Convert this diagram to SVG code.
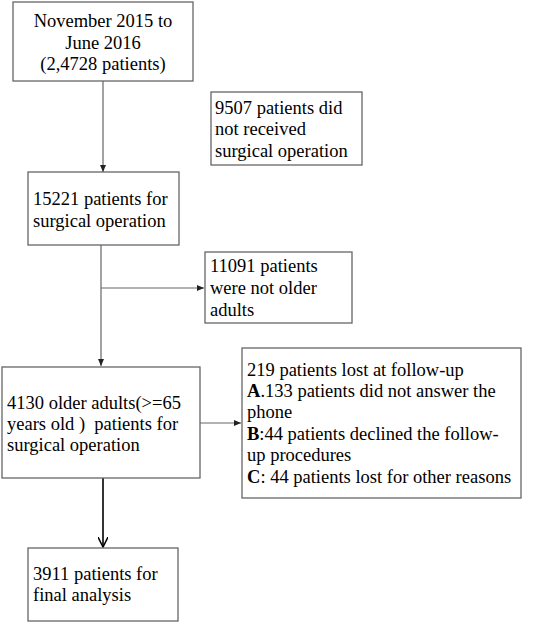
<svg xmlns="http://www.w3.org/2000/svg" width="536" height="623" viewBox="0 0 536 623">
<style>
.box{fill:#fff;stroke:#666;stroke-width:1.3}
.t{font-family:"Liberation Serif","Times New Roman",serif;font-size:18.5px;fill:#000}
.c{stroke:#666;stroke-width:1.2;fill:none}
.k{stroke:#000;stroke-width:1.6;fill:none}
</style>
<defs>
<marker id="ah" markerWidth="8" markerHeight="8" refX="7" refY="4" orient="auto" markerUnits="userSpaceOnUse">
<path d="M0,1 L7,4 L0,7 Z" fill="#222"/>
</marker>
<marker id="av" markerWidth="12" markerHeight="10" refX="10" refY="5" orient="auto" markerUnits="userSpaceOnUse">
<path d="M0,0 L10,5 L0,10" fill="none" stroke="#000" stroke-width="1.5"/>
</marker>
</defs>
<rect width="536" height="623" fill="#fff"/>
<g id="connectors">
<line class="c" x1="103" y1="81" x2="103" y2="172" marker-end="url(#ah)"/>
<line class="c" x1="101" y1="245" x2="101" y2="366" marker-end="url(#ah)"/>
<line class="c" x1="101" y1="288" x2="204" y2="288" marker-end="url(#ah)"/>
<line class="c" x1="200" y1="423" x2="241" y2="423" marker-end="url(#ah)"/>
<line class="k" x1="103" y1="478" x2="103" y2="547" marker-end="url(#av)"/>
</g>
<g id="n1">
<rect class="box" x="13" y="2" width="180" height="79"/>
<text class="t" text-anchor="middle"><tspan x="103" y="27">November 2015 to</tspan><tspan x="103" y="49">June 2016</tspan><tspan x="103" y="70">(2,4728 patients)</tspan></text>
</g>
<g id="n2">
<rect class="box" x="211" y="92" width="151" height="73"/>
<text class="t"><tspan x="215" y="114">9507 patients did</tspan><tspan x="215" y="135">not received</tspan><tspan x="215" y="157">surgical operation</tspan></text>
</g>
<g id="n3">
<rect class="box" x="28" y="172" width="151" height="73"/>
<text class="t"><tspan x="33" y="205">15221 patients for</tspan><tspan x="33" y="227">surgical operation</tspan></text>
</g>
<g id="n4">
<rect class="box" x="205" y="252" width="147" height="71"/>
<text class="t"><tspan x="210" y="272">11091 patients</tspan><tspan x="210" y="294">were not older</tspan><tspan x="210" y="316">adults</tspan></text>
</g>
<g id="n5">
<rect class="box" x="2" y="367" width="198" height="111"/>
<text class="t"><tspan x="7" y="409">4130 older adults(&gt;=65</tspan><tspan x="7" y="430">years old )&#160; patients for</tspan><tspan x="7" y="451">surgical operation</tspan></text>
</g>
<g id="n6">
<rect class="box" x="242" y="348" width="279" height="150"/>
<text class="t"><tspan x="247" y="376">219 patients lost at follow-up</tspan><tspan x="247" y="397"><tspan font-weight="bold">A</tspan>.133 patients did not answer the</tspan><tspan x="247" y="418">phone</tspan><tspan x="247" y="440"><tspan font-weight="bold">B</tspan>:44 patients declined the follow-</tspan><tspan x="247" y="461">up procedures</tspan><tspan x="247" y="483"><tspan font-weight="bold">C</tspan>: 44 patients lost for other reasons</tspan></text>
</g>
<g id="n7">
<rect class="box" x="28" y="548" width="150" height="73"/>
<text class="t"><tspan x="33" y="580">3911 patients for</tspan><tspan x="33" y="601">final analysis</tspan></text>
</g>
</svg>
